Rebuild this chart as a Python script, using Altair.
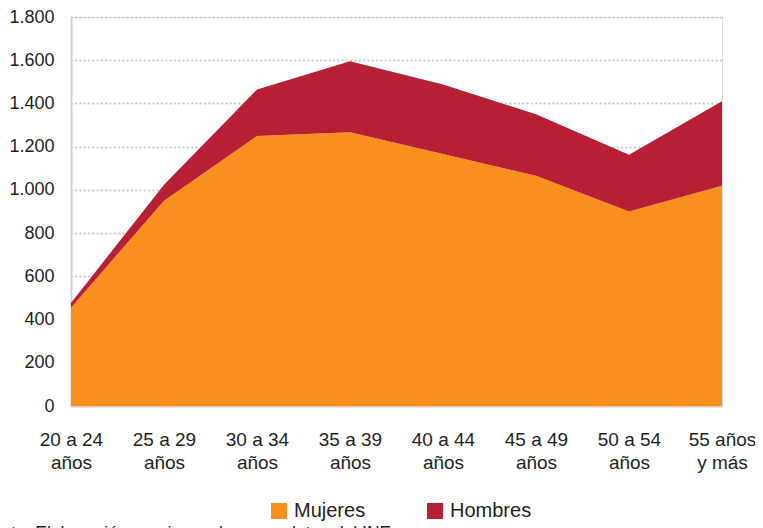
import altair as alt
import pandas as pd

categories = ["20 a 24|años", "25 a 29|años", "30 a 34|años", "35 a 39|años",
              "40 a 44|años", "45 a 49|años", "50 a 54|años", "55 años|y más"]
mujeres = [455, 950, 1249, 1267, 1166, 1065, 900, 1019]
hombres = [22, 74, 216, 328, 322, 285, 263, 391]
series = ["Mujeres", "Hombres"]
colors = ["#F7901E", "#B71F34"]
y_ticks = [0, 200, 400, 600, 800, 1000, 1200, 1400, 1600, 1800]
footnote = "Fuente: Elaboración propia con base en datos del INE"

rows = []
for i, c in enumerate(categories):
    rows.append({"grupo": c, "sexo": "Mujeres", "valor": mujeres[i], "orden": 0})
    rows.append({"grupo": c, "sexo": "Hombres", "valor": hombres[i], "orden": 1})
df = pd.DataFrame(rows)

FONT = "Liberation Sans, Arial, Helvetica, sans-serif"

area = alt.Chart(df).mark_area(opacity=1, interpolate="linear").encode(
    x=alt.X("grupo:O", sort=categories, scale=alt.Scale(padding=0),
            axis=alt.Axis(title=None, labelAngle=0, labelExpr="split(datum.label, '|')",
                          ticks=False, grid=False, domainColor="#D6D0CA", domainWidth=2,
                          labelFontSize=19, labelLineHeight=23, labelPadding=24,
                          labelColor="#231F20", labelFont=FONT, labelBaseline="top")),
    y=alt.Y("valor:Q", stack="zero", scale=alt.Scale(domain=[0, 1800], nice=False),
            axis=alt.Axis(title=None, values=y_ticks, ticks=False,
                          labelExpr="replace(format(datum.value, ','), ',', '.')",
                          grid=True, gridDash=[0.5, 3.8], gridColor="#CFC9C4", gridWidth=2,
                          gridCap="round",
                          domainColor="#D6D0CA", domainWidth=2,
                          labelFontSize=18, labelPadding=17, labelColor="#231F20",
                          labelFont=FONT)),
    color=alt.Color("sexo:N", scale=alt.Scale(domain=series, range=colors),
                    legend=alt.Legend(title=None, orient="none", legendX=198, legendY=484,
                                      direction="horizontal", symbolType="square",
                                      symbolSize=256, symbolStrokeWidth=0, symbolOpacity=1,
                                      labelFontSize=20, labelFont=FONT, labelColor="#231F20",
                                      labelOffset=5, columnPadding=59)),
    order=alt.Order("orden:Q"),
)

note = alt.Chart(pd.DataFrame({"t": [footnote]})).mark_text(
    align="left", baseline="alphabetic", fontSize=17.5, font=FONT, color="#231F20"
).encode(text="t:N", x=alt.value(-100), y=alt.value(522))

chart = alt.layer(area, note).properties(
    width=651, height=389,
    autosize=alt.AutoSizeParams(type="none"),
    padding={"left": 63, "top": 9, "right": 33, "bottom": 122},
).configure_view(stroke=None).configure(font=FONT)

chart.save("out.html", embed_options={"renderer": "svg", "actions": False})
